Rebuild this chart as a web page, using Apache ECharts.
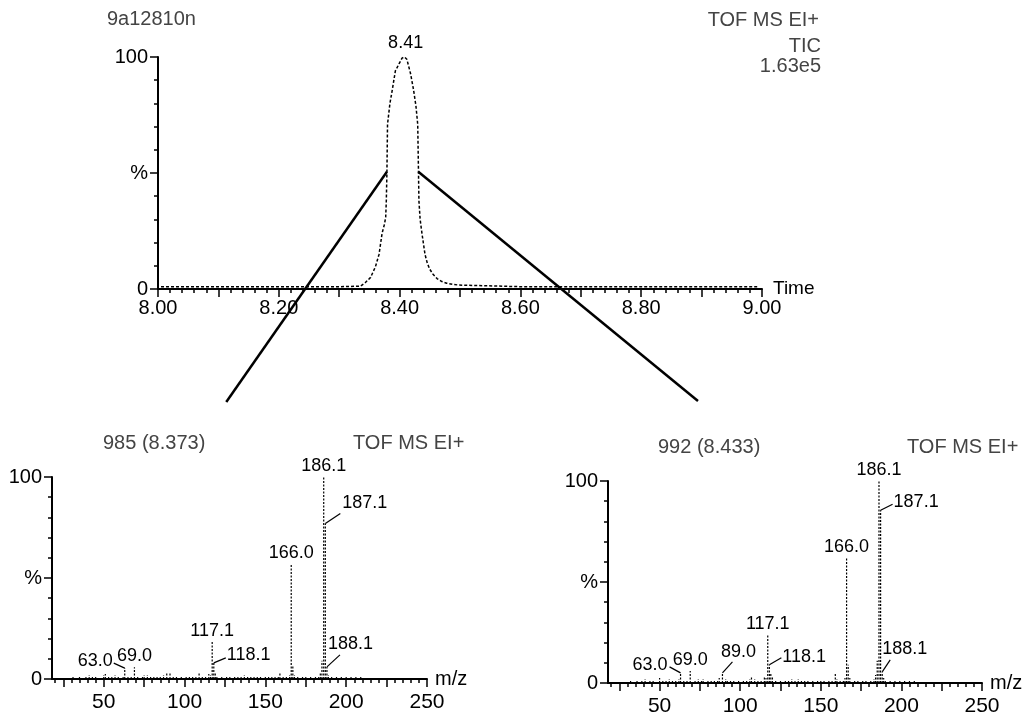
<!DOCTYPE html>
<html>
<head>
<meta charset="utf-8">
<script src="https://cdn.jsdelivr.net/npm/echarts@6/dist/echarts.min.js"></script>
<style>
html, body { margin: 0; padding: 0; background: #fff; }
#chart { width: 1022px; height: 712px; }
</style>
</head>
<body>
<div id="chart"></div>
<script>
// --- TIC chromatogram (time in min, % of 1.63e5) ---
const ticTime = [8.005, 8.100, 8.200, 8.300, 8.335, 8.343, 8.352, 8.360, 8.366, 8.371,
    8.375, 8.377, 8.378, 8.379, 8.380, 8.384, 8.388, 8.393, 8.399, 8.404,
    8.408, 8.412, 8.418, 8.423, 8.427, 8.430, 8.431, 8.432, 8.434, 8.437,
    8.442, 8.446, 8.450, 8.455, 8.462, 8.470, 8.478, 8.488, 8.498, 8.600,
    8.700, 8.800, 8.900, 8.995];
const ticPct = [1, 1, 1, 1, 1.2, 2.7, 5, 9.6, 15, 24,
    28, 31, 38, 50, 71, 80, 86, 94, 97, 99.5,
    100, 99, 93, 86, 79, 71, 55, 38, 30, 24,
    15, 11, 8.5, 6.5, 4.5, 3.2, 2.5, 2, 1.7, 1,
    1, 1, 1, 1];
const ticApex = 8.41;
const ticTitle = '9a12810n';
const ticHeader = ['TOF MS EI+', 'TIC', '1.63e5'];
const timeTickLabels = [8.00, 8.20, 8.40, 8.60, 8.80, 9.00];

// lines from the two scans on the TIC down to their spectra (TIC axis units)
const leftConnector = [[8.379, 50.5], [8.113, -48.7]];
const rightConnector = [[8.431, 50.5], [8.894, -48.3]];

// --- scan 985 (8.373) ---
const scanA_title = '985 (8.373)';
const scanA_peakMz = [63.0, 69.0, 117.1, 118.1, 166.0, 186.1, 187.1, 188.1];
const scanA_peakInt = [5.4, 5.8, 18.5, 8, 57, 100, 77, 6];
const scanA_noiseMz = [31, 35, 39, 41, 43, 45, 50, 51, 53, 55,
    57, 59, 62, 65, 67, 71, 74, 75, 77, 79,
    81, 83, 85, 87, 89, 91, 93, 95, 98, 101,
    103, 105, 107, 109, 111, 113, 115, 116, 119, 120,
    123, 126, 128, 131, 133, 135, 137, 139, 141, 143,
    145, 147, 150, 152, 154, 156, 158, 159, 161, 163,
    165, 167, 168, 170, 173, 175, 178, 181, 183, 184,
    185, 189, 191, 194, 197, 200, 203, 206, 209];
const scanA_noiseInt = [1, 1.5, 1.5, 2, 1.5, 1, 2, 2.5, 1, 1.5,
    2, 1, 1.5, 1, 1.5, 1, 1.5, 2, 2, 1,
    1.5, 1, 1, 2, 3, 3.5, 1.5, 1, 1.5, 1,
    1.5, 1, 1.5, 3, 1, 1.5, 2.5, 2, 3, 1.5,
    1, 1.5, 1, 1.5, 1, 1.5, 2, 1.5, 1, 1,
    1, 1, 1, 1, 1.5, 1, 1, 3, 1.5, 1,
    2, 6.5, 2, 1, 1, 1, 1, 1, 1.5, 3,
    9, 2, 1, 1, 1, 1, 1, 1, 1];

// --- scan 992 (8.433) ---
const scanB_title = '992 (8.433)';
const scanB_peakMz = [63.0, 69.0, 89.0, 117.1, 118.1, 166.0, 186.1, 187.1, 188.1];
const scanB_peakInt = [5, 6, 5, 23.5, 9, 62, 100, 85.5, 5.5];
const scanB_noiseMz = [32, 36, 39, 41, 44, 46, 50, 52, 54, 56,
    58, 60, 62, 65, 67, 72, 74, 76, 77, 80,
    82, 84, 86, 87, 91, 92, 94, 96, 99, 102,
    104, 106, 107, 109, 111, 113, 115, 116, 119, 120,
    122, 125, 128, 130, 132, 134, 136, 138, 140, 142,
    145, 148, 150, 152, 155, 157, 159, 160, 162, 164,
    165, 167, 168, 171, 173, 176, 178, 181, 183, 184,
    185, 189, 190, 193, 196, 199, 202, 205, 208];
const scanB_noiseInt = [1, 1.5, 1, 2, 1.5, 1, 2.5, 1.5, 1, 2,
    1.5, 1, 2, 1.5, 1, 1.5, 2, 1, 2, 1,
    1.5, 1, 1.5, 2.5, 2, 1, 1.5, 1, 1.5, 1,
    1.5, 2, 3.5, 2, 1, 1.5, 3, 2.5, 5, 3,
    1.5, 1, 1.5, 1, 2, 1, 2, 1.5, 1, 1.5,
    1, 1.5, 1, 1.5, 1, 1, 5, 2, 1, 1.5,
    2.5, 9, 2.5, 1, 1.5, 1, 1, 1, 2, 4,
    11, 2.5, 1.5, 1, 1.5, 1, 1, 1, 1];

const modeText = 'TOF MS EI+';
const mzTickLabels = [50, 100, 150, 200, 250];

// label placement (pixel offsets from peak top); peaks not listed get a centred label above
const placeA = {
    '63.0': { leader: [-11, -5], text: [-12, -7], align: 'right' },
    '118.1': { leader: [12, -5], text: [13, -8], align: 'left' },
    '187.1': { leader: [15, -10], text: [17, -20], align: 'left' },
    '188.1': { leader: [13, -12], text: [1, -23], align: 'left' }
};
const placeB = {
    '63.0': { leader: [-11, -6], text: [-13, -8], align: 'right' },
    '89.0': { leader: [10, -11], text: [16, -21], align: 'center' },
    '118.1': { leader: [12, -7], text: [13, -8], align: 'left' },
    '187.1': { leader: [12, -6], text: [13, -8], align: 'left' },
    '188.1': { leader: [8, -12], text: [0, -23], align: 'left' }
};

const FONT = "'Liberation Sans', Arial, sans-serif";
const INK = '#000';
const DIM = '#444';

function pairs(xs, ys) {
    return xs.map((x, i) => [x, ys[i]]);
}

function stickShape(api) {
    const base = api.coord([api.value(0), 0]);
    const top = api.coord([api.value(0), api.value(1)]);
    return {
        type: 'line',
        shape: { x1: base[0], y1: base[1], x2: top[0], y2: top[1] },
        style: { stroke: INK, lineWidth: 1.2, lineDash: [2, 1.5] }
    };
}

function labelledRenderer(placements) {
    return function (params, api) {
        const mz = api.value(0);
        const top = api.coord([mz, api.value(1)]);
        const text = mz.toFixed(1);
        const p = placements[text] || { text: [0, -11], align: 'center' };
        const children = [stickShape(api)];
        if (p.leader) {
            children.push({
                type: 'line',
                shape: { x1: top[0], y1: top[1], x2: top[0] + p.leader[0], y2: top[1] + p.leader[1] },
                style: { stroke: INK, lineWidth: 1.2 }
            });
        }
        children.push({
            type: 'text',
            x: top[0] + p.text[0],
            y: top[1] + p.text[1],
            style: { text: text, fill: INK, font: '18px ' + FONT, align: p.align, verticalAlign: 'middle' }
        });
        return { type: 'group', children: children };
    };
}

const tickStyle = { color: INK, width: 1.5 };

function pctAxis(gridIndex) {
    return {
        gridIndex: gridIndex,
        type: 'value',
        position: 'left',
        min: 0,
        max: 100,
        interval: 50,
        axisLine: { show: true, lineStyle: { color: INK, width: 2 } },
        axisTick: { show: true, length: 8, lineStyle: tickStyle },
        minorTick: { show: true, splitNumber: 5, length: 4, lineStyle: tickStyle },
        splitLine: { show: false },
        minorSplitLine: { show: false },
        axisLabel: {
            color: INK, fontFamily: FONT, fontSize: 20, margin: 10,
            formatter: v => (v === 100 ? '100' : v === 50 ? '%' : v === 0 ? '0' : '')
        }
    };
}

const mzMinorTicks = [];
for (let v = 20; v <= 250; v += 5) mzMinorTicks.push(v);
const mzMajorTicks = mzMinorTicks.filter(v => v % 25 === 0);

function mzAxes(gridIndex) {
    return [
        {
            gridIndex: gridIndex,
            type: 'value',
            position: 'bottom',
            min: 18,
            max: 250,
            axisLine: { show: true, lineStyle: { color: INK, width: 2 } },
            axisTick: { show: true, length: 4, customValues: mzMinorTicks, lineStyle: tickStyle },
            splitLine: { show: false },
            axisLabel: { color: INK, fontFamily: FONT, fontSize: 21, margin: 13, customValues: mzTickLabels },
            name: 'm/z',
            nameLocation: 'end',
            nameGap: 8,
            nameMoveOverlap: false,
            nameTextStyle: { color: INK, fontFamily: FONT, fontSize: 20, padding: [8, 0, 0, 0] }
        },
        {
            gridIndex: gridIndex,
            type: 'value',
            position: 'bottom',
            offset: 0,
            min: 18,
            max: 250,
            axisLine: { show: false },
            axisTick: { show: true, length: 8, customValues: mzMajorTicks, lineStyle: tickStyle },
            splitLine: { show: false },
            axisLabel: { show: false }
        }
    ];
}

function spectrumSeries(xIdx, yIdx, noiseMz, noiseInt, peakMz, peakInt, placements) {
    return [
        {
            type: 'custom',
            xAxisIndex: xIdx,
            yAxisIndex: yIdx,
            silent: true,
            clip: false,
            encode: { x: 0, y: 1 },
            renderItem: (params, api) => stickShape(api),
            data: pairs(noiseMz, noiseInt)
        },
        {
            type: 'custom',
            xAxisIndex: xIdx,
            yAxisIndex: yIdx,
            silent: true,
            clip: false,
            encode: { x: 0, y: 1 },
            renderItem: labelledRenderer(placements),
            data: pairs(peakMz, peakInt)
        }
    ];
}

function textAt(text, x, y, align, color) {
    return {
        type: 'text', x: x, y: y, silent: true,
        style: { text: text, fill: color, font: '20px ' + FONT, align: align, verticalAlign: 'middle' }
    };
}

const chart = echarts.init(document.getElementById('chart'), null, { renderer: 'canvas' });

const option = {
    animation: false,
    backgroundColor: '#fff',
    grid: [
        { left: 158, top: 57, width: 604, height: 232, containLabel: false, outerBoundsMode: 'none' },
        { left: 52, top: 477, width: 375, height: 202, containLabel: false, outerBoundsMode: 'none' },
        { left: 608, top: 481, width: 374, height: 202, containLabel: false, outerBoundsMode: 'none' }
    ],
    xAxis: [
        {
            gridIndex: 0,
            type: 'value',
            position: 'bottom',
            min: 8,
            max: 9,
            interval: 0.1,
            axisLine: { show: true, lineStyle: { color: INK, width: 2 } },
            axisTick: { show: true, length: 8, lineStyle: tickStyle },
            minorTick: { show: true, splitNumber: 5, length: 4, lineStyle: tickStyle },
            splitLine: { show: false },
            minorSplitLine: { show: false },
            axisLabel: {
                color: INK, fontFamily: FONT, fontSize: 20, margin: 9,
                formatter: v => (timeTickLabels.some(t => Math.abs(t - v) < 1e-6) ? v.toFixed(2) : '')
            },
            name: 'Time',
            nameLocation: 'end',
            nameGap: 11,
            nameMoveOverlap: false,
            nameTextStyle: { color: INK, fontFamily: FONT, fontSize: 19, padding: [4, 0, 0, 0] }
        }
    ].concat(mzAxes(1), mzAxes(2)),
    yAxis: [pctAxis(0), pctAxis(1), pctAxis(2)],
    series: [
        {
            type: 'line',
            xAxisIndex: 0,
            yAxisIndex: 0,
            data: pairs(ticTime, ticPct),
            showSymbol: false,
            symbol: 'none',
            silent: true,
            lineStyle: { color: INK, width: 1.5, type: [3, 2] },
            markPoint: {
                symbol: 'circle',
                symbolSize: 1,
                itemStyle: { color: 'rgba(0,0,0,0)' },
                label: {
                    show: true, position: 'top', distance: 4,
                    formatter: ticApex.toFixed(2),
                    color: INK, fontFamily: FONT, fontSize: 18
                },
                data: [{ coord: [ticApex, 100] }]
            }
        },
        {
            type: 'line',
            xAxisIndex: 0,
            yAxisIndex: 0,
            data: leftConnector,
            symbol: 'none',
            clip: false,
            silent: true,
            lineStyle: { color: INK, width: 2.5 }
        },
        {
            type: 'line',
            xAxisIndex: 0,
            yAxisIndex: 0,
            data: rightConnector,
            symbol: 'none',
            clip: false,
            silent: true,
            lineStyle: { color: INK, width: 2.5 }
        }
    ].concat(
        spectrumSeries(1, 1, scanA_noiseMz, scanA_noiseInt, scanA_peakMz, scanA_peakInt, placeA),
        spectrumSeries(3, 2, scanB_noiseMz, scanB_noiseInt, scanB_peakMz, scanB_peakInt, placeB)
    ),
    graphic: [
        textAt(ticTitle, 107, 19, 'left', DIM),
        textAt(ticHeader[0], 819, 20, 'right', DIM),
        textAt(ticHeader[1], 821, 46, 'right', DIM),
        textAt(ticHeader[2], 821, 66, 'right', DIM),
        textAt(scanA_title, 103, 443, 'left', DIM),
        textAt(modeText, 353, 443, 'left', DIM),
        textAt(scanB_title, 658, 447, 'left', DIM),
        textAt(modeText, 907, 447, 'left', DIM)
    ]
};

chart.setOption(option);
</script>
</body>
</html>
